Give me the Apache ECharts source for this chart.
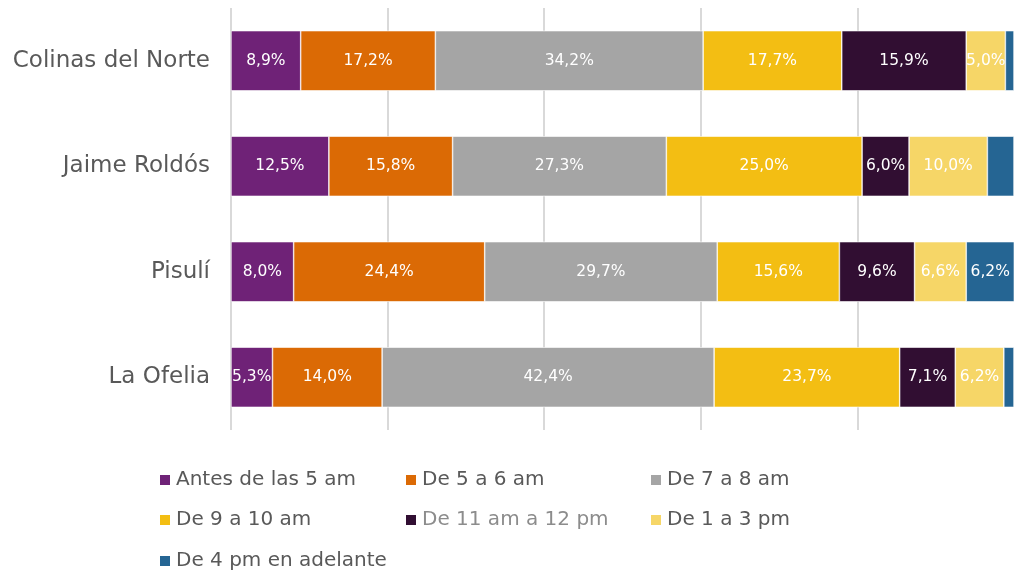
<!DOCTYPE html>
<html>
<head>
<meta charset="utf-8">
<script src="https://cdn.jsdelivr.net/npm/echarts@6/dist/echarts.min.js"></script>
<style>
  html, body { margin: 0; padding: 0; background: #ffffff; }
  #chart { width: 1014px; height: 573px; }
</style>
</head>
<body>
<div id="chart"></div>
<script>
// Neighbourhoods, top to bottom
const categories = ['Colinas del Norte', 'Jaime Roldós', 'Pisulí', 'La Ofelia'];

// Share of respondents (%) by time band, one array per band
const antes5   = [8.9, 12.5, 8.0, 5.3];
const de5a6    = [17.2, 15.8, 24.4, 14.0];
const de7a8    = [34.2, 27.3, 29.7, 42.4];
const de9a10   = [17.7, 25.0, 15.6, 23.7];
const de11a12  = [15.9, 6.0, 9.6, 7.1];
const de1a3    = [5.0, 10.0, 6.6, 6.2];
const de4pm    = [1.1, 3.4, 6.2, 1.3];

const seriesNames = [
  'Antes de las 5 am', 'De 5 a 6 am', 'De 7 a 8 am',
  'De 9 a 10 am', 'De 11 am a 12 pm', 'De 1 a 3 pm', 'De 4 pm en adelante'
];
const seriesData = [antes5, de5a6, de7a8, de9a10, de11a12, de1a3, de4pm];
const colors = ['#6F2277', '#DB6A05', '#A5A5A5', '#F3BE13', '#310E32', '#F6D667', '#256593'];

const FONT = 'DejaVu Sans';
const TEXT = '#595959';

// Legend laid out in a three-column grid
const legendPos = [
  [158, 470], [404, 470], [649, 470],
  [158, 510], [404, 510], [649, 510],
  [158, 551]
];
const legendTextColor = [TEXT, TEXT, TEXT, TEXT, '#8C8C8C', TEXT, TEXT];

const chart = echarts.init(document.getElementById('chart'), null, { renderer: 'canvas' });

chart.setOption({
  animation: false,
  color: colors,
  grid: { left: 231, width: 785, top: 8, height: 422, containLabel: false },
  xAxis: {
    type: 'value', min: 0, max: 100, interval: 20,
    axisLabel: { show: false }, axisLine: { show: false }, axisTick: { show: false },
    splitLine: { show: true, showMaxLine: false, lineStyle: { color: '#D9D9D9', width: 2 } }
  },
  yAxis: {
    type: 'category', data: categories, inverse: true,
    axisLine: { show: false }, axisTick: { show: false },
    axisLabel: { color: TEXT, fontFamily: FONT, fontSize: 23, margin: 21 }
  },
  legend: seriesNames.map((n, i) => ({
    data: [{ name: n, textStyle: { color: legendTextColor[i] } }],
    left: legendPos[i][0], top: legendPos[i][1], padding: 0,
    icon: 'rect', itemWidth: 12, itemHeight: 12, itemGap: 0,
    textStyle: { fontFamily: FONT, fontSize: 20, color: legendTextColor[i] },
    selectedMode: false
  })),
  series: seriesNames.map((n, i) => ({
    name: n, type: 'bar', stack: 'total', barWidth: '57%',
    data: seriesData[i],
    itemStyle: { borderColor: '#ffffff', borderWidth: 0.6 },
    label: {
      show: true, position: 'inside', color: '#ffffff',
      fontFamily: FONT, fontSize: 15.5,
      formatter: p => p.value < 4 ? '' : p.value.toFixed(1).replace('.', ',') + '%'
    }
  }))
});
</script>
</body>
</html>
